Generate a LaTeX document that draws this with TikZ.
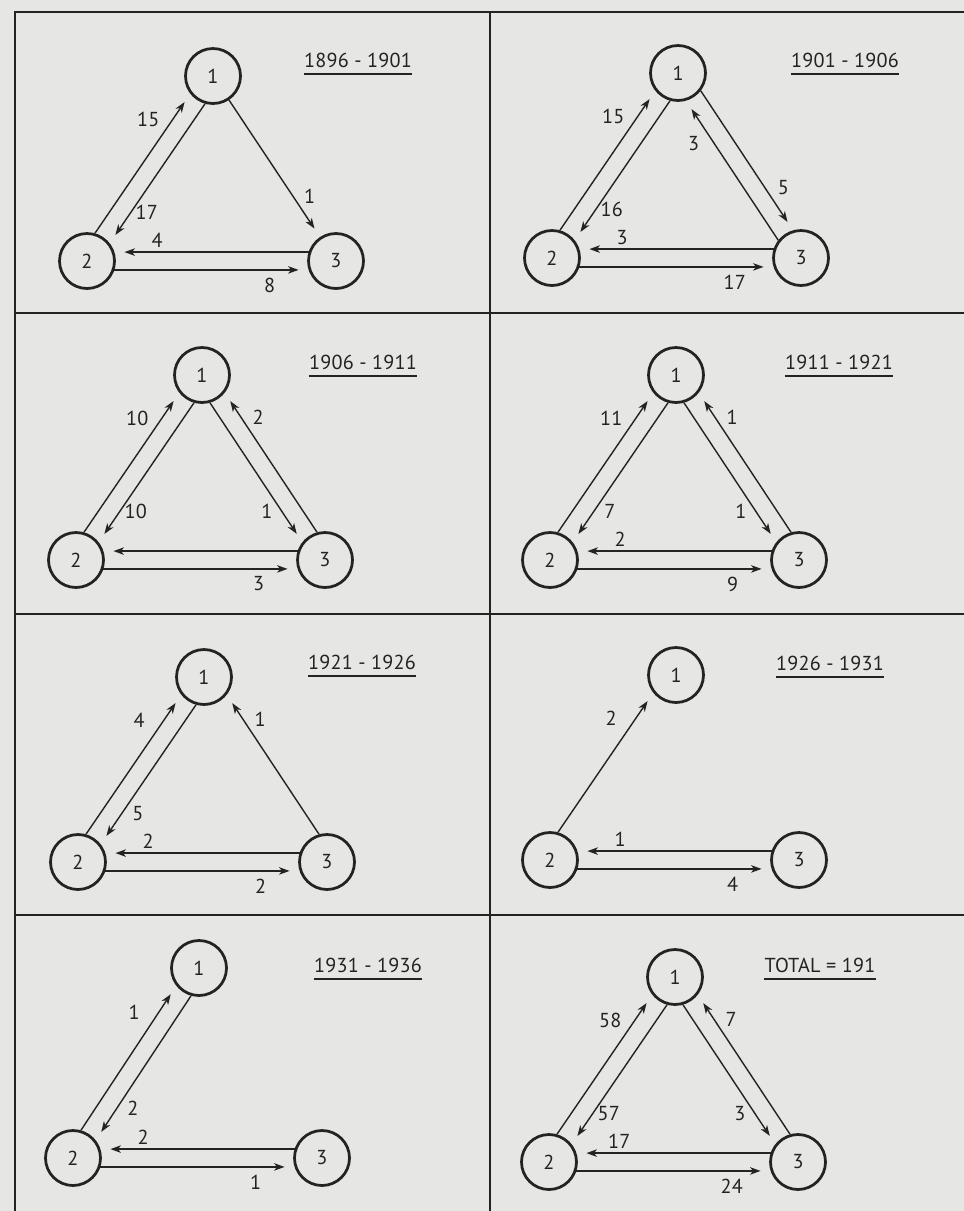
\documentclass[tikz,border=0pt]{standalone}
\usepackage{fontspec}
\setmainfont{PT Sans}[LetterSpace=1]
\usetikzlibrary{arrows.meta}

\definecolor{paper}{RGB}{230,230,228}
\definecolor{ink}{RGB}{35,35,35}

\begin{document}
\begin{tikzpicture}[
  x=0.02cm, y=-0.02cm,
  >={Stealth[length=2.1mm,width=1.5mm,inset=0.6mm]},
  town/.style={draw=ink, circle, line width=0.55mm, minimum size=11mm, inner sep=0pt,
               text=ink, font=\fontsize{11.5}{13}\selectfont},
  flow/.style={->, draw=ink, line width=0.28mm, shorten >=2mm},
  num/.style={inner sep=0pt, text=ink, font=\fontsize{11.5}{13}\selectfont},
  l21/.style={num, pos=.8, shift={(-23,-2)}},   % 2 -> 1, outer side
  l12/.style={num, pos=.8, shift={(18,-3)}},    % 1 -> 2, inner side
  l31/.style={num, pos=.8, shift={(15,-3)}},    % 3 -> 1, outer side
  l13/.style={num, pos=.8, shift={(-17,-3)}},   % 1 -> 3, inner side
  l32/.style={num, pos=.78, shift={(0,-12)}},   % 3 -> 2, top
  l23/.style={num, pos=.8, shift={(0,15)}},     % 2 -> 3, bottom
  grid/.style={draw=ink, line width=0.4mm},
  period/.style={inner xsep=0pt, inner ysep=1.3mm, text=ink,
                 font=\fontsize{11.5}{13}\selectfont,
                 append after command={(\tikzlastnode.south west) edge[-, draw=ink, line width=0.3mm] (\tikzlastnode.south east)}}
]

\fill[paper] (0,0) rectangle (964,1211);
\useasboundingbox (0,0) rectangle (964,1211);

% ---------- frame ----------
\draw[grid] (15,1211) -- (15,12) -- (964,12);
\draw[grid] (490,12) -- (490,1211);
\foreach \r in {313,614,915}
  \draw[grid] (15,\r) -- (964,\r);

% ---------- 1896 - 1901 ----------
\begin{scope}[shift={(25,14)}]
\node[town] (a1) at (188,62) {1};
\node[town] (a2) at (62,247) {2};
\node[town] (a3) at (311,247) {3};
\node[period] (ya) at (333,46) {1896 - 1901};
\draw[flow] (a2.74) -- node[l21] {15} (a1.218);
\draw[flow] (a1.254) -- node[l12] {17} (a2.38);
\draw[flow] (a1) -- node[num, pos=.7, shift={(17,0)}] {1} (a3);
\draw[flow] (a3.162) -- node[l32] {4} (a2.18);
\draw[flow] (a2.342) -- node[l23] {8} (a3.198);
\end{scope}

% ---------- 1901 - 1906 ----------
\begin{scope}[shift={(490,11)}]
\node[town] (b1) at (188,62) {1};
\node[town] (b2) at (62,247) {2};
\node[town] (b3) at (311,247) {3};
\node[period] (yb) at (355,49) {1901 - 1906};
\draw[flow] (b2.74) -- node[l21] {15} (b1.218);
\draw[flow] (b1.254) -- node[l12] {16} (b2.38);
\draw[flow] (b3.142) -- node[num, pos=.7, shift={(-20,1)}] {3} (b1.286);
\draw[flow] (b1.322) -- node[num, pos=.7, shift={(18,-1)}] {5} (b3.106);
\draw[flow] (b3.162) -- node[l32] {3} (b2.18);
\draw[flow] (b2.342) -- node[l23] {17} (b3.198);
\end{scope}

% ---------- 1906 - 1911 ----------
\begin{scope}[shift={(14,313)}]
\node[town] (c1) at (188,62) {1};
\node[town] (c2) at (62,247) {2};
\node[town] (c3) at (311,247) {3};
\node[period] (yc) at (349,49) {1906 - 1911};
\draw[flow] (c2.74) -- node[l21] {10} (c1.218);
\draw[flow] (c1.254) -- node[l12] {10} (c2.38);
\draw[flow] (c3.106) -- node[l31] {2} (c1.322);
\draw[flow] (c1.286) -- node[l13] {1} (c3.142);
\draw[flow] (c3.162) -- (c2.18);
\draw[flow] (c2.342) -- node[l23] {3} (c3.198);
\end{scope}

% ---------- 1911 - 1921 ----------
\begin{scope}[shift={(488,313)}]
\node[town] (d1) at (188,62) {1};
\node[town] (d2) at (62,247) {2};
\node[town] (d3) at (311,247) {3};
\node[period] (yd) at (351,49) {1911 - 1921};
\draw[flow] (d2.74) -- node[l21] {11} (d1.218);
\draw[flow] (d1.254) -- node[l12] {7} (d2.38);
\draw[flow] (d3.106) -- node[l31] {1} (d1.322);
\draw[flow] (d1.286) -- node[l13] {1} (d3.142);
\draw[flow] (d3.162) -- node[l32] {2} (d2.18);
\draw[flow] (d2.342) -- node[l23] {9} (d3.198);
\end{scope}

% ---------- 1921 - 1926 ----------
\begin{scope}[shift={(16,615)}]
\node[town] (e1) at (188,62) {1};
\node[town] (e2) at (62,247) {2};
\node[town] (e3) at (311,247) {3};
\node[period] (ye) at (346,47) {1921 - 1926};
\draw[flow] (e2.74) -- node[l21] {4} (e1.218);
\draw[flow] (e1.254) -- node[l12] {5} (e2.38);
\draw[flow] (e3.106) -- node[l31] {1} (e1.322);
\draw[flow] (e3.162) -- node[l32] {2} (e2.18);
\draw[flow] (e2.342) -- node[l23] {2} (e3.198);
\end{scope}

% ---------- 1926 - 1931 ----------
\begin{scope}[shift={(488,613)}]
\node[town] (f1) at (188,62) {1};
\node[town] (f2) at (62,247) {2};
\node[town] (f3) at (311,247) {3};
\node[period] (yf) at (342,50) {1926 - 1931};
\draw[flow] (f2.74) -- node[l21] {2} (f1.218);
\draw[flow] (f3.162) -- node[l32] {1} (f2.18);
\draw[flow] (f2.342) -- node[l23] {4} (f3.198);
\end{scope}

% ---------- 1931 - 1936 ----------
\begin{scope}[shift={(11,911)}]
\node[town] (g1) at (188,57) {1};
\node[town] (g2) at (62,247) {2};
\node[town] (g3) at (311,247) {3};
\node[period] (yg) at (357,54) {1931 - 1936};
\draw[flow] (g2.74) -- node[l21] {1} (g1.218);
\draw[flow] (g1.254) -- node[l12] {2} (g2.38);
\draw[flow] (g3.162) -- node[l32] {2} (g2.18);
\draw[flow] (g2.342) -- node[l23] {1} (g3.198);
\end{scope}

% ---------- total ----------
\begin{scope}[shift={(487,915)}]
\node[town] (h1) at (188,62) {1};
\node[town] (h2) at (62,247) {2};
\node[town] (h3) at (311,247) {3};
\node[period] (yh) at (333,50) {TOTAL = 191};
\draw[flow] (h2.74) -- node[l21] {58} (h1.218);
\draw[flow] (h1.254) -- node[l12] {57} (h2.38);
\draw[flow] (h3.106) -- node[l31] {7} (h1.322);
\draw[flow] (h1.286) -- node[l13] {3} (h3.142);
\draw[flow] (h3.162) -- node[l32] {17} (h2.18);
\draw[flow] (h2.342) -- node[l23] {24} (h3.198);
\end{scope}
\end{tikzpicture}
\end{document}
